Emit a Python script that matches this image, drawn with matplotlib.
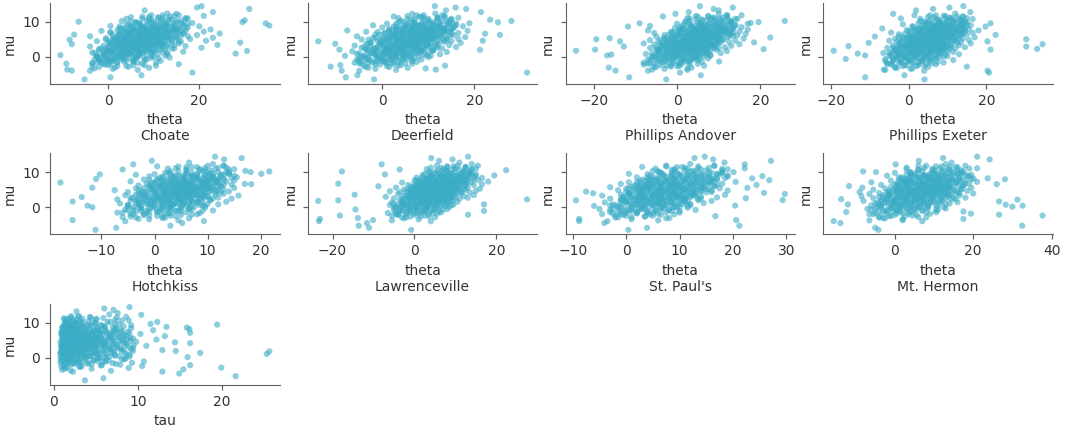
import matplotlib.pyplot as plt

# posterior draws (eight schools, centered model)
# chain 1 carries the tails, chains 2 and 3 fill in the dense core
schools = ["Choate", "Deerfield", "Phillips Andover", "Phillips Exeter",
           "Hotchkiss", "Lawrenceville", "St. Paul's", "Mt. Hermon"]

mu = [
    -6.42, -5.81, -5.23, -4.47,
    -3.91, -3.62, -3.28, -3.04, -2.77, -2.51, -2.33, -2.08,
    -1.93, -1.78, -1.62, -1.49, -1.31, -1.17, -1.02, -0.88, -0.71, -0.58, -0.43, -0.31, -0.18, -0.06,
    0.04, 0.13, 0.22, 0.31, 0.42, 0.51, 0.59, 0.68, 0.77, 0.86, 0.95, 1.04, 1.13, 1.22, 1.31, 1.42,
    1.51, 1.6, 1.69, 1.78, 1.87, 1.96,
    2.03, 2.1, 2.16, 2.23, 2.3, 2.37, 2.43, 2.5, 2.57, 2.63, 2.7, 2.77, 2.84, 2.9, 2.97, 3.04, 3.1,
    3.17, 3.24, 3.3, 3.37, 3.44, 3.5, 3.57, 3.63, 3.7, 3.77, 3.84, 3.9, 3.97,
    4.03, 4.09, 4.15, 4.21, 4.27, 4.33, 4.39, 4.45, 4.51, 4.57, 4.63, 4.69, 4.75, 4.81, 4.87, 4.93,
    4.99, 5.05, 5.11, 5.17, 5.23, 5.29, 5.35, 5.41, 5.47, 5.53, 5.59, 5.65, 5.71, 5.77, 5.83, 5.89, 5.95,
    6.03, 6.1, 6.16, 6.23, 6.3, 6.37, 6.43, 6.5, 6.57, 6.63, 6.7, 6.77, 6.84, 6.9, 6.97, 7.04, 7.1,
    7.17, 7.24, 7.3, 7.37, 7.44, 7.5, 7.57, 7.63, 7.7, 7.77, 7.84, 7.9, 7.97,
    8.04, 8.13, 8.22, 8.31, 8.42, 8.51, 8.59, 8.68, 8.77, 8.86, 8.95, 9.04, 9.13, 9.22, 9.31, 9.42,
    9.51, 9.6, 9.69, 9.78, 9.87, 9.96,
    10.08, 10.27, 10.45, 10.63, 10.82, 11.0, 11.18, 11.37, 11.55, 11.73, 11.91,
    12.3, 12.8, 13.3, 13.7, 14.1, 14.5,
]

tau = [
    3.7, 5.9, 21.6, 14.9,
    12.9, 2.0, 15.4, 1.3, 19.9, 3.0, 10.5, 16.2,
    1.2, 4.5, 2.3, 7.0, 1.6, 3.4, 10.7, 5.2, 0.9, 2.7, 6.1, 1.9, 8.5, 3.8,
    2.1, 5.5, 15.9, 1.0, 3.3, 7.8, 1.5, 4.2, 2.6, 9.0, 1.3, 6.3, 25.3, 3.0, 0.8, 17.4, 4.8, 2.0, 7.2,
    1.1, 25.6, 14.5,
    3.6, 1.4, 5.9, 12.9, 2.4, 8.2, 1.0, 4.4, 2.9, 6.7, 1.7, 3.9, 9.4, 2.2, 5.1, 1.2, 7.5, 3.2, 1.8,
    4.9, 2.6, 11.0, 0.9, 6.0, 3.5, 1.5, 8.7, 2.8, 4.6, 1.9,
    2.5, 5.6, 1.1, 16.2, 3.8, 7.1, 1.6, 14.4, 4.3, 2.1, 9.8, 3.0, 1.3, 6.4, 2.7, 5.0, 1.8, 8.1, 3.4,
    1.0, 12.2, 4.7, 2.3, 6.9, 1.4, 3.6, 9.1, 2.0, 5.3, 1.2, 4.0, 7.7, 2.9,
    3.1, 1.5, 6.6, 13.2, 2.2, 4.5, 1.0, 8.4, 3.7, 1.9, 5.8, 2.6, 10.3, 1.3, 4.1, 7.0, 2.4, 16.2, 1.7,
    3.3, 5.5, 0.9, 8.8, 2.8, 4.9, 1.6, 6.2, 3.0, 11.8, 2.0,
    3.9, 1.4, 16.1, 5.2, 2.3, 7.4, 1.1, 15.8, 3.5, 13.4, 2.7, 6.0, 1.8, 4.4, 9.2, 2.1, 19.4, 3.2,
    11.5, 1.5, 5.0, 2.6,
    1.9, 12.3, 4.1, 2.4, 7.3, 1.3, 3.4, 5.9, 2.0, 8.6, 3.0,
    10.4, 7.6, 2.7, 7.1, 6.0, 9.0,
]

theta_choate = [
    -5.2, 0.5, 7.3, 18.5,
    -8.0, -9.0, -3.0, 1.5, 4.5, 10.5, 0.0, 15.5,
    -9.2, -3.5, -1.5, 2.0, 0.5, 5.5, -2.0, 8.0, 1.0, 3.5, 11.0, -0.5, 13.5, 6.0,
    2.5, -2.5, 6.0, 0.0, 9.5, -10.5, 3.0, -1.0, 13.0, 4.5, 28.0, 1.5, 7.0, -3.5, 10.0, 5.0, 16.5,
    0.5, 30.5, 3.5, 8.5, -0.5,
    6.5, 1.0, 11.5, 4.0, -2.0, 9.0, 14.5, 2.5, 7.5, 20.5, 0.0, 5.5, 12.0, 3.0, -4.0, 8.0, 17.0,
    5.0, 10.5, 1.5, 6.5, 24.0, 13.0, 4.0, -8.0, 9.5, 2.0, 15.5, 7.0, 11.0,
    5.5, 29.0, 0.5, 12.5, 8.0, 3.0, 16.0, 6.5, -2.5, 10.0, 21.5, 4.5, 14.0, 7.5, 1.5, -8.5, 11.5,
    6.0, 18.0, 9.0, 3.5, 13.5, -0.5, 8.5, 23.0, 5.0, 15.0, 10.5, 2.0, 7.0, 12.0, -4.0, 17.5,
    9.5, 4.5, 13.0, 19.5, 7.0, -7.5, 11.0, 2.5, 15.5, 8.0, 24.5, 5.5, 12.5, 0.5, 16.5, 9.0, 3.5,
    14.0, 21.0, 6.5, 11.5, -1.5, 17.0, 8.5, 13.0, 4.0, 10.0, 22.5, 15.0, 6.0,
    11.0, 2.5, 14.5, 7.5, 17.5, 9.5, 5.0, 12.5, 20.0, 0.5, 35.4, 8.5, 7.0, 13.0, 4.0, 16.5, 10.5,
    34.6, 18.5, 6.5, 12.0, 29.5,
    -6.5, 3.0, 30.0, 14.0, 7.5, 17.5, 11.0, 5.0, 13.5, 21.0, 9.5,
    15.0, 23.0, 8.0, 31.0, 19.5, 20.5,
]

theta_deerfield = [
    -1.8, -7.9, -5.4, 31.4,
    -8.8, 11.6, 9.4, -3.0, -11.2, 13.6, -9.1, 2.5,
    -4.5, 1.0, -6.0, 3.5, -1.5, 6.5, 0.0, -3.0, 8.5, 2.0, -5.0, 4.5, -0.5, 10.0,
    1.5, -4.0, 6.0, -8.1, 3.0, 9.5, -1.5, 4.5, 12.5, -5.5, 2.0, 7.5, -2.5, 5.5, 0.5, 14.0, 3.5,
    -6.5, 8.5, 1.0, 11.0, -3.0,
    21.2, -9.3, 4.0, 9.0, -2.0, 6.5, 13.0, 1.0, 7.5, -4.5, 10.5, 3.5, 16.0, 5.0, -1.0, 8.0, 12.0,
    2.5, -6.0, 6.0, 14.5, 4.5, 9.5, 0.0, 7.0, -3.5, -10.2, 11.5, 5.5, 17.0,
    3.0, 8.5, -2.5, 12.5, 6.0, 1.5, 10.0, -13.9, 15.0, 4.5, 21.8, 7.5, -0.5, 13.5, 5.5, 9.5, -4.5,
    3.5, 16.5, 8.0, 0.5, 11.0, 6.5, -2.0, 14.0, 4.0, 9.0, 18.0, 2.0, 7.0, 12.0, -5.5, 10.5,
    6.5, 11.5, 2.5, 15.5, 25.5, 8.5, -1.5, 13.0, 4.5, 22.3, 10.0, 0.5, 16.5, 7.0, 12.5, 3.0, 9.5,
    -3.5, 14.5, 5.5, 11.0, 18.5, 1.5, -7.6, 8.0, 13.5, 6.0, 10.5, 15.0, 3.5,
    9.0, 13.0, 4.5, 11.5, 0.0, 15.5, 7.5, 12.0, 17.5, 5.0, 9.5, -2.0, 14.0, 7.0, 11.0, 3.0, 16.0,
    18.9, 8.5, 12.5, 25.1, 6.0,
    10.0, 28.0, 14.5, 23.4, 5.5, 12.0, 16.5, 8.0, 2.5, 13.5, 9.0,
    6.5, 21.4, 13.8, 18.2, 15.9, 11.4,
]

theta_andover = [
    -2.6, -11.5, 5.7, 0.7,
    -14.8, -6.0, 2.5, -16.4, -1.5, 6.5, -4.0, 1.0,
    -5.5, 0.5, -8.0, 3.0, 10.1, -2.5, 5.0, -6.5, 1.5, -1.0, 7.5, -3.5, 4.0, -0.5,
    -2.0, 4.5, -6.0, 1.0, -16.8, 8.0, -3.5, -15.8, 2.5, -7.5, 5.5, -1.0, 10.5, 0.0, -4.5, 3.5, 7.0,
    -2.5, 12.0, -24.3, 1.5, -5.0,
    4.0, -19.7, -1.5, 20.8, 6.5, -4.0, 2.0, 9.0, -6.5, 0.5, 5.0, 11.5, -2.5, 3.0, -12.8, 7.5, -0.5,
    13.0, 4.5, -3.5, 1.5, 8.5, -5.5, 6.0, 15.0, 0.0, 3.5, -8.0, 10.0, 2.0,
    5.0, -2.0, 18.5, 9.5, 1.0, 12.5, -4.5, -13.7, 6.5, 3.0, 14.0, -0.5, 8.0, -6.5, 4.5, 11.0, 1.5,
    -19.4, 7.0, -3.0, 16.0, 5.5, -16.2, 10.0, 2.5, 22.4, 8.5, -1.5, 12.0, 4.0, -5.0, 6.0, 13.5,
    9.0, 2.0, 14.5, 6.0, -3.0, 11.0, 4.0, 8.0, 16.5, 0.5, 12.5, 7.0, -5.5, 10.0, 3.5, 13.5, 5.5,
    -1.0, 9.5, 15.0, 2.5, 11.5, 7.5, -7.0, 13.0, 4.5, 10.5, 17.0, 6.5, 1.0,
    10.0, 5.0, 13.5, -0.5, 8.5, 15.5, 3.5, -11.8, 11.5, -6.5, 7.0, 14.0, 1.5, 9.5, 12.5, 5.5, 17.0,
    -9.0, 17.7, 8.0, 11.0, 19.6,
    13.0, 25.9, 6.0, 10.5, 14.5, 3.0, 9.0, 12.0, -3.4, 7.5, 15.5,
    -0.4, 2.8, 10.0, 8.8, 13.4, 5.5,
]

theta_exeter = [
    4.1, -11.2, -1.1, 20.7,
    20.3, -6.4, 1.0, -3.5, 15.0, 4.0, -1.0, 7.0,
    -4.5, 2.5, 9.0, -2.0, 5.5, -6.0, 0.5, 11.5, 3.5, -16.2, 6.5, -3.0, 1.5, 8.0,
    -1.0, 4.0, 10.0, -5.0, -11.2, 2.0, 7.0, -2.5, 13.0, 0.5, -13.1, 5.0, -6.5, 8.5, 3.0, 11.5, -0.5,
    6.0, -4.0, -19.3, 1.5, 9.0,
    3.5, 21.1, -3.0, 7.5, 33.1, 0.0, 12.0, 5.0, -5.5, 9.5, 2.0, 14.5, 6.0, -1.5, 30.3, 10.5, -15.5,
    4.0, 8.0, -4.0, 13.0, 1.0, 6.5, 11.0, 34.5, -2.5, 3.0, 16.0, 7.5, 0.5,
    -10.3, 5.5, 10.0, 1.5, 13.5, 7.0, -2.0, 20.3, 4.0, 11.5, -5.0, 8.5, 2.5, 15.5, 6.0, -0.5, 12.0,
    30.3, 3.5, 9.0, -3.5, 14.0, 7.5, 1.0, 10.5, 5.0, 17.0, -1.5, 8.0, 12.5, -8.7, 4.5, 11.0,
    6.5, 13.0, 0.5, 9.5, 22.4, 4.0, 15.0, -2.5, 11.0, 7.5, 2.0, 13.5, 5.5, 16.5, -4.5, 9.0, 12.0,
    3.0, 7.0, 14.5, 0.0, 10.0, 5.0, 18.0, 8.5, 12.5, 1.5, 6.0, 15.5, 10.5,
    8.0, -6.8, 12.0, 3.5, 14.0, 6.5, 10.0, 19.8, 1.0, 13.0, 7.5, 16.0, 4.5, 11.0, -1.5, 9.0, 14.5,
    21.1, 5.5, 12.0, 8.0, 15.0,
    10.0, 3.0, 13.5, 7.0, 16.5, -2.0, 11.0, 5.0, 14.0, 9.0, 1.5,
    -4.0, 15.9, 1.9, 6.3, 10.5, 14.1,
]

theta_hotchkiss = [
    -11.1, -7.2, 3.0, 5.2,
    9.3, -15.4, -3.0, 1.5, -6.0, 4.0, -1.0, 7.0,
    -4.0, 2.0, 8.5, -7.0, 0.5, 5.0, -2.5, 11.0, 3.0, -5.5, 6.5, -1.0, 1.5, 9.5,
    -11.7, 2.5, -3.0, 6.0, 0.0, -12.6, 9.0, -5.0, 3.5, 12.0, -1.5, 5.5, -6.5, 1.0, 8.0, -2.5, 4.0,
    13.5, -15.4, 7.0, -0.5, 2.5,
    -3.5, 5.0, 10.5, 1.5, -7.0, 7.0, 3.0, 14.5, -1.0, 9.0, 4.5, -4.5, 12.0, 0.5, -13.7, 6.5, 2.0,
    10.0, -2.0, 8.0, 15.8, 3.5, -5.5, 5.5, 11.5, 0.0, 7.5, -3.0, 13.0, 4.0,
    2.0, 9.5, -1.5, 6.0, 12.5, 3.5, -5.0, 8.0, 0.5, 14.0, 5.0, -2.5, 10.5, 7.0, 2.5, -7.5, 11.5,
    4.5, 8.5, -0.5, 13.0, 6.0, 1.5, 10.0, -3.5, 7.5, 15.0, -11.7, 3.0, 9.0, 12.0, 5.5, -1.0,
    8.0, 1.0, 12.5, 4.5, -3.0, 10.0, 6.5, 14.5, 2.5, 18.2, 17.0, -1.5, 9.0, 5.0, 12.0, 0.0, -17.7,
    7.5, 11.0, 3.5, 13.5, -4.5, 6.0, 9.5, 2.0, 15.0, 8.5, 4.0, 11.5, -2.0,
    10.5, -11.0, 5.5, 13.0, 1.5, 8.0, 15.5, 3.5, 11.0, -1.0, 7.0, 12.5, 4.5, 9.5, -3.5, -10.3, 14.0,
    20.1, 6.0, 10.0, 2.0, 12.0,
    18.1, 21.6, 17.1, 8.5, -6.0, 11.5, 4.0, 13.5, 7.0, 0.5, 10.0,
    -4.0, 6.5, -0.5, 13.1, 16.4, 11.4,
]

theta_lawrenceville = [
    -0.8, -11.1, -13.6, -11.6,
    -23.3, -10.1, -23.1, -13.8, -2.0, 3.5, -18.2, 13.1,
    -4.0, 1.0, -6.5, 4.5, -1.5, 6.0, 17.0, -3.0, 2.5, -14.4, 8.0, 0.0, -5.0, 3.0,
    -2.0, 5.0, -4.5, 1.5, 7.5, -1.0, 3.5, -6.0, 9.5, 17.0, 0.5, 5.5, -3.0, 2.0, 8.0, -5.5, 4.0,
    10.5, -0.5, 6.5, -23.5, 2.5,
    -18.6, 3.0, 8.5, -3.5, 27.5, 5.5, 0.0, 11.0, -5.0, 7.0, 2.5, 13.0, -1.5, 4.5, 9.0, -7.0, 6.0,
    1.0, 12.0, 3.5, -2.5, 8.0, 14.5, 0.5, -14.6, 5.0, 10.0, -4.0, 7.5, 2.0,
    6.0, -1.0, 10.5, 3.0, 13.5, -3.5, 8.0, 1.5, 5.0, 11.5, -6.0, 7.0, 15.0, 2.5, 9.5, -0.5, 4.5,
    12.5, 6.5, -2.5, 10.0, 3.5, 16.0, 8.5, 0.5, 5.5, 13.0, -4.5, 7.5, 11.0, 2.0, 9.0, 4.0,
    -8.8, 8.0, 12.0, 3.0, 6.5, 14.5, -1.5, 10.0, 5.0, 16.5, 1.0, -18.6, 8.5, 12.5, 4.0, 10.5, -3.0,
    7.0, 14.0, 2.5, 18.0, 9.0, 5.5, 12.0, 0.0, 8.0, 15.5, 4.5, 11.0, 6.5,
    9.5, 3.0, 13.0, 6.5, 16.5, 0.5, 11.0, 7.5, 14.5, 4.0, 10.0, 12.5, 19.5, 2.0, 8.5, -7.2, 15.0,
    5.5, 11.5, 9.0, 13.5, 6.0,
    12.0, -17.7, 7.0, 22.4, -3.6, 14.0, 10.0, 4.0, 12.5, 8.0, 15.5,
    -8.0, 11.0, 6.0, 9.3, 4.1, 13.1,
]

theta_stpauls = [
    0.4, 3.9, 21.2, -4.1,
    -8.8, 20.6, -8.8, 8.1, 1.0, 16.7, -2.0, 4.5,
    -1.0, 6.0, 2.0, 10.0, -3.0, 4.0, 8.5, 0.5, 13.0, 3.0, -5.0, 7.0, 1.5, 11.5,
    2.5, 9.0, -1.5, 5.5, -6.0, 20.4, 12.0, 3.5, 7.5, -2.5, 10.5, 1.0, 6.5, 14.5, 4.0, -4.0, 8.5,
    0.0, 11.5, 5.0, 16.0, 2.0,
    -9.4, 29.3, 6.0, 10.0, 1.5, 13.5, 4.5, -3.0, 8.0, 22.4, 11.0, 3.0, 17.0, 6.5, -0.5, 9.5, 14.0,
    2.0, 7.0, 12.0, -4.5, 5.0, 10.5, 18.5, 3.5, 8.5, 0.5, 29.7, 13.0, 6.0,
    -6.2, 9.0, 25.8, 4.5, 12.5, 1.0, 16.0, 7.0, -7.5, 10.5, 3.0, 14.0, 8.0, 19.0, 5.5, -1.5, 11.5,
    6.5, 15.0, 2.5, 9.5, 13.0, 0.0, 7.5, 17.5, 4.0, 22.7, 11.0, 6.0, -3.0, 14.5, 8.5, 3.5,
    10.0, 5.0, 16.5, 1.5, 12.5, 8.0, 24.4, 3.5, 14.0, 9.5, -1.0, 18.0, 6.5, 11.0, 4.5, 15.5, 8.5,
    0.5, 13.0, 20.5, 7.0, 10.5, 2.5, 16.0, 12.0, 5.5, 26.8, 9.0, 14.5, 3.0,
    11.0, 6.0, 17.0, 23.6, 9.0, 13.5, 2.0, 15.5, 7.5, 19.0, 25.5, 11.5, 4.5, 14.0, 8.5, 17.5, 10.0,
    0.5, 13.0, 6.5, 16.0, 9.5,
    20.1, 12.0, 5.0, 15.0, 9.0, 18.0, 22.2, 11.0, 3.0, 13.5, 7.5,
    22.2, 18.4, 27.1, 16.3, 12.8, 14.7,
]

theta_mthermon = [
    -4.2, -5.0, 32.5, -13.9,
    -15.6, 2.0, 17.5, -3.0, 6.0, -1.0, 37.7, 26.6,
    3.5, 19.4, -5.0, 8.0, -12.4, 17.5, 1.0, -2.5, 10.5, 5.0, -7.0, 13.0, 0.0, 4.0,
    -3.5, 6.5, 30.0, 1.5, 11.0, 32.6, -6.0, 4.0, 28.3, -12.0, 8.5, -1.0, 14.0, 2.5, -4.5, 7.0, 16.0,
    0.0, 26.6, 10.0, -8.0, 5.0,
    12.0, -2.0, 7.5, 31.3, 3.0, -13.7, 15.5, 0.5, 9.0, -5.5, 5.5, 18.0, 2.0, 11.5, -3.0, 7.0, 13.5,
    -8.5, 4.5, 10.0, 1.0, 16.5, 6.0, -1.5, 12.5, 3.5, 8.5, -6.5, 14.5, 20.0,
    5.0, -4.0, 11.0, 1.5, 16.0, 8.0, -9.0, 13.0, 3.5, 9.5, -1.5, 18.5, 6.5, 12.0, 0.5, 15.0, 7.5,
    -5.5, 10.5, 4.0, 17.0, 2.0, 13.5, 8.5, -2.5, 11.5, 19.5, -8.3, 6.0, 14.0, 1.0, 9.0, 16.5,
    7.0, -11.7, 12.5, 3.0, 17.5, 9.5, -3.5, 14.0, 5.5, 26.0, 11.0, 0.5, 19.0, 8.0, 15.5, 2.5, 12.0,
    -6.0, 10.0, 21.0, 6.5, 16.0, 4.0, 13.5, -1.0, 9.0, 18.0, 11.5, 3.5, 14.5,
    28.1, 8.5, 20.1, 23.7, 13.0, 2.0, 16.5, 10.0, 5.5, 18.5, 12.0, -2.0, 14.5, 7.5, 19.5, 11.0, 4.0,
    16.0, 9.0, 13.5, 0.0, 17.0,
    -4.8, -8.1, 12.5, 6.0, 16.0, 9.5, 21.0, 3.0, 14.0, 10.5, 18.0,
    0.2, 14.5, 6.1, 24.2, 12.3, 21.0,
]

# chain 2
mu_2 = [
    -2.9, -2.6, -2.4, -2.1, -1.9, -1.7, -1.5, -1.35, -1.2, -1.05,
    -0.95, -0.85, -0.7, -0.6, -0.45, -0.35, -0.2, -0.1, 0.05, 0.15, 0.3, 0.4, 0.5, 0.6, 0.7, 0.8,
    0.9, 0.97,
    1.05, 1.12, 1.2, 1.28, 1.36, 1.45, 1.53, 1.61, 1.7, 1.78, 1.86, 1.95, 2.03, 2.12, 2.2, 2.28,
    2.36, 2.45, 2.53, 2.61, 2.7, 2.78, 2.86, 2.95,
    3.03, 3.1, 3.17, 3.24, 3.31, 3.38, 3.45, 3.52, 3.59, 3.66, 3.73, 3.8, 3.87, 3.94, 4.02, 4.09,
    4.16, 4.23, 4.3, 4.37, 4.44, 4.51, 4.58, 4.65, 4.72, 4.79, 4.86, 4.93,
    5.03, 5.1, 5.17, 5.24, 5.31, 5.38, 5.45, 5.52, 5.59, 5.66, 5.73, 5.8, 5.87, 5.94, 6.02, 6.09,
    6.16, 6.23, 6.3, 6.37, 6.44, 6.51, 6.58, 6.65, 6.72, 6.79, 6.86, 6.93,
    7.05, 7.12, 7.2, 7.28, 7.36, 7.45, 7.53, 7.61, 7.7, 7.78, 7.86, 7.95, 8.03, 8.12, 8.2, 8.28,
    8.36, 8.45, 8.53, 8.61, 8.7, 8.78, 8.86, 8.95,
    9.05, 9.2, 9.35, 9.5, 9.65, 9.8, 9.95, 10.1, 10.25, 10.4, 10.55, 10.7, 10.85, 10.95,
    11.2, 11.5, 11.9, 12.4,
]

tau_2 = [
    1.4, 3.2, 0.9, 5.6, 2.1, 7.4, 1.7, 4.1, 2.8, 6.2,
    2.4, 1.1, 4.8, 3.0, 8.1, 1.6, 5.4, 2.0, 0.8, 3.7, 6.6, 1.3, 4.3, 2.6, 7.2, 1.9, 3.4, 5.1,
    1.2, 3.8, 2.2, 6.0, 1.5, 4.6, 8.4, 2.9, 1.0, 5.3, 3.3, 1.8, 7.0, 2.5, 4.0, 1.3, 6.4, 3.1, 2.0,
    5.0, 1.6, 8.0, 3.6, 2.3,
    4.4, 1.1, 2.7, 6.8, 1.7, 3.5, 5.7, 0.9, 2.4, 4.9, 7.6, 1.4, 3.0, 2.1, 6.1, 1.0, 4.2, 8.3, 2.6,
    1.5, 3.9, 5.5, 1.2, 2.9, 7.1, 3.3, 1.8, 4.7,
    2.2, 5.9, 1.3, 3.6, 8.6, 1.9, 4.5, 2.7, 6.5, 1.0, 3.1, 5.2, 1.6, 7.8, 2.4, 4.0, 1.2, 3.4, 6.9,
    2.0, 1.5, 5.0, 3.8, 8.2, 1.1, 2.8, 4.6, 1.7,
    3.3, 1.4, 6.3, 2.2, 4.8, 1.0, 7.5, 2.9, 1.8, 5.4, 3.7, 1.3, 8.0, 2.5, 4.3, 1.6, 6.0, 3.0, 1.1,
    5.1, 2.0, 7.0, 3.5, 1.5,
    2.1, 5.7, 1.2, 3.9, 7.3, 1.8, 4.6, 2.6, 6.4, 1.4, 3.2, 8.1, 2.3, 5.0,
    1.7, 4.4, 2.9, 6.6,
]

theta_choate_2 = [
    -3.5, 2.0, 5.5, -1.0, 0.5, 6.5, -2.5, 3.5, 1.0, -0.5,
    0.0, 5.5, -2.0, 3.0, 8.0, 1.5, -1.0, 4.5, 6.5, 2.0, -2.5, 3.5, 7.0, 0.5, 5.0, 2.5, -0.5, 4.0,
    3.0, 7.5, -1.0, 5.0, 9.5, 1.5, 4.5, 6.5, 0.0, 8.0, 3.5, 10.0, 2.0, 6.0, -0.5, 4.0, 7.0, 2.5,
    9.0, 5.5, 1.0, 3.5, 8.5, 6.0,
    5.0, 9.0, 1.5, 7.0, 11.5, 3.5, 6.0, 10.0, 2.0, 8.0, 4.5, 12.0, 6.5, 0.5, 9.5, 5.5, 3.0, 7.5,
    11.0, 4.0, 8.5, 2.5, 6.0, 10.5, 5.0, 1.0, 7.0, 9.0,
    7.0, 11.5, 3.0, 9.0, 13.0, 5.5, 8.0, 2.0, 10.5, 6.5, 12.5, 4.0, 9.5, 7.5, 13.5, 3.5, 10.0, 6.0,
    8.5, 11.0, 5.0, 2.5, 9.0, 12.0, 7.0, 4.5, 10.5, 8.0,
    9.0, 13.5, 4.5, 11.0, 7.0, 15.0, 10.0, 5.5, 12.5, 8.5, 14.0, 6.5, 10.5, 3.5, 12.0, 9.5, 15.5,
    7.5, 11.5, 5.0, 13.0, 8.0, 10.0, 14.5,
    11.0, 7.0, 14.5, 9.5, 16.0, 12.5, 6.0, 10.0, 15.0, 8.5, 13.0, 11.5, 17.0, 9.0,
    12.0, 9.0, 15.5, 13.0,
]

theta_deerfield_2 = [
    1.5, -4.0, 3.5, -1.5, 5.0, -3.0, 0.5, 2.5, -5.0, -0.5,
    -2.5, 4.0, 0.5, 6.5, -3.5, 2.5, 5.0, -1.0, 1.5, 3.5, -4.0, 6.0, 0.0, 2.0, 4.5, -1.5, 3.0, 1.0,
    5.5, 0.0, 3.0, 8.0, -2.0, 4.5, 1.5, 6.5, 2.5, -1.0, 7.5, 3.5, 0.5, 5.0, 8.5, 2.0, 4.0, -1.5,
    6.0, 1.0, 3.0, 7.0, 4.5, 2.5,
    2.0, 7.5, 4.5, 0.0, 9.5, 5.5, 3.0, 8.0, 1.0, 6.5, 10.0, 4.0, 2.5, 7.0, -0.5, 5.0, 8.5, 3.5,
    6.0, 1.5, 9.0, 4.5, 0.5, 7.5, 5.5, 3.0, 10.0, 6.0,
    8.5, 4.0, 11.0, 6.0, 1.5, 9.5, 5.0, 7.5, 3.0, 10.5, 6.5, 1.0, 8.0, 4.5, 11.5, 7.0, 2.5, 9.0,
    5.5, 3.5, 10.0, 6.0, 8.5, 2.0, 7.0, 11.0, 4.5, 9.5,
    6.0, 11.5, 3.5, 9.0, 13.0, 7.5, 4.5, 10.0, 2.5, 8.5, 12.0, 6.5, 11.0, 5.0, 9.5, 13.5, 7.0,
    3.0, 10.5, 8.0, 5.5, 12.5, 9.0, 6.5,
    8.0, 12.5, 5.5, 10.5, 14.5, 7.0, 11.0, 4.5, 13.0, 9.0, 15.0, 6.5, 10.0, 12.0,
    9.0, 13.5, 7.5, 11.5,
]

theta_andover_2 = [
    -5.0, 0.5, -2.5, 3.0, -7.0, -1.0, 1.5, -4.0, 2.5, -3.0,
    1.0, -4.5, 3.5, -2.0, 5.0, -6.0, 0.0, 2.5, -3.0, 4.5, -1.0, 1.5, -5.0, 3.0, -0.5, 5.5, -2.5,
    0.5,
    -1.5, 3.5, 6.5, -4.0, 1.0, 4.5, -2.5, 2.0, 6.0, -0.5, 3.0, -4.5, 5.0, 0.5, 2.5, -3.0, 7.0, 1.5,
    -1.0, 4.0, 0.0, 5.5, -2.0, 3.0,
    4.0, -1.0, 7.0, 2.0, -3.0, 5.5, 0.5, 8.5, 3.0, -2.0, 6.0, 1.0, 4.5, 7.5, -0.5, 2.5, 5.0, 0.0,
    8.0, 3.5, -1.5, 6.5, 2.0, 4.0, -2.5, 7.0, 1.5, 5.5,
    2.0, 7.5, 0.0, 5.0, 9.5, 3.5, -1.0, 6.5, 4.0, 10.0, 1.5, 8.0, 5.5, -0.5, 3.0, 9.0, 6.0, 2.5,
    7.0, 4.5, 0.5, 8.5, 5.0, 10.5, 3.5, 1.0, 6.5, 4.0,
    7.5, 3.0, 10.5, 5.0, 0.5, 8.5, 6.0, 11.5, 2.0, 7.0, 9.5, 4.0, 12.0, 6.5, 1.5, 8.0, 5.5, 10.0,
    3.5, 7.0, 11.0, 4.5, 9.0, 6.0,
    6.0, 10.5, 3.0, 8.5, 13.0, 5.0, 9.5, 2.0, 11.5, 7.0, 12.5, 4.5, 8.0, 10.0,
    8.5, 5.0, 12.0, 10.0,
]

theta_exeter_2 = [
    -3.5, 2.0, -0.5, 4.5, -5.5, 1.0, -2.0, 3.0, -4.0, 0.0,
    3.5, -2.0, 5.5, 0.0, -4.0, 2.5, 6.0, -1.0, 1.5, 4.0, -3.0, 0.5, 5.0, 2.0, -1.5, 3.0, -4.5, 1.0,
    0.0, 5.0, 2.5, 7.5, -2.0, 3.5, 6.0, 1.0, -3.0, 4.5, 8.0, 2.0, -1.0, 5.5, 3.0, 7.0, 0.5, 4.0,
    -2.5, 6.5, 1.5, 3.5, 5.0, -0.5,
    6.0, 1.5, 8.5, 3.5, -1.0, 5.0, 9.5, 2.5, 7.0, 0.0, 4.5, 8.0, 3.0, 6.5, -0.5, 5.5, 2.0, 9.0,
    4.0, 7.5, 1.0, 5.0, 3.5, 8.5, 0.5, 6.0, 2.5, 4.5,
    3.5, 8.5, 1.0, 6.0, 10.5, 4.5, 7.5, 0.5, 9.0, 5.5, 2.5, 11.0, 6.5, 4.0, 8.0, 1.5, 10.0, 5.0,
    7.0, 3.0, 9.5, 6.0, 2.0, 8.5, 4.5, 11.0, 7.0, 5.5,
    9.5, 5.0, 12.0, 7.0, 3.0, 10.5, 8.0, 13.0, 4.5, 9.0, 6.0, 11.5, 2.5, 8.5, 12.5, 6.5, 10.0,
    4.0, 7.5, 11.0, 5.5, 9.0, 13.5, 7.0,
    11.0, 6.5, 13.5, 9.0, 4.5, 12.0, 8.0, 14.5, 10.0, 5.5, 11.5, 7.5, 13.0, 9.5,
    10.5, 14.0, 7.0, 12.0,
]

theta_hotchkiss_2 = [
    2.0, -4.5, 0.5, 5.0, -2.0, 3.0, -6.0, 1.0, -1.0, 4.0,
    -1.5, 4.5, 1.0, -4.0, 6.5, 2.5, -2.5, 0.0, 5.0, 3.0, -5.0, 1.5, 7.0, -0.5, 3.5, -3.0, 2.0, 5.5,
    4.0, -1.0, 6.5, 1.5, -3.5, 3.0, 8.0, 0.0, 5.0, 2.5, -2.0, 7.0, 3.5, 1.0, 5.5, -0.5, 4.5, 8.5,
    2.0, -3.0, 6.0, 3.0, 0.5, 4.5,
    1.0, 6.0, -1.5, 4.0, 9.0, 2.5, 7.0, 0.0, 5.0, 8.0, 3.0, -2.0, 6.5, 4.5, 1.5, 9.5, 5.5, 2.0,
    7.5, -0.5, 3.5, 6.0, 0.5, 8.5, 4.0, 2.5, 5.0, 7.0,
    7.0, 2.5, 9.5, 5.0, 0.0, 8.0, 4.0, 10.5, 6.0, 1.5, 7.5, 3.5, 11.0, 5.5, -0.5, 9.0, 4.5, 6.5,
    2.0, 8.5, 5.0, 10.0, 3.0, 7.0, 1.0, 6.0, 9.5, 4.0,
    4.5, 9.0, 1.5, 7.0, 11.5, 5.5, 3.0, 10.0, 6.5, 0.5, 8.5, 12.0, 4.0, 7.5, 2.5, 10.5, 6.0, 9.0,
    1.0, 8.0, 5.0, 11.0, 3.5, 7.0,
    10.0, 5.5, 12.5, 8.0, 3.0, 11.0, 7.0, 13.5, 9.0, 4.5, 10.5, 6.0, 14.0, 8.5,
    9.5, 6.0, 13.0, 11.0,
]

theta_lawrenceville_2 = [
    -3.0, 1.5, -5.5, 0.0, 3.5, -2.0, -4.5, 2.5, -1.0, 0.5,
    2.0, -3.5, 4.5, -1.0, 0.5, 5.5, -4.5, 1.5, 3.0, -2.0, 6.0, 0.0, -3.0, 2.5, 4.0, -1.5, 1.0, -5.0,
    0.5, 5.0, -2.5, 3.0, 7.0, 1.5, -1.0, 4.5, 2.0, 6.0, -3.0, 3.5, 0.0, 5.5, 2.5, 7.5, -1.5, 4.0,
    1.0, 6.5, -0.5, 3.0, 5.0, 1.5,
    5.0, 0.5, 7.5, 3.0, -1.5, 6.0, 2.0, 9.0, 4.0, 1.0, 8.0, 3.5, -0.5, 6.5, 4.5, 2.5, 8.5, 0.0,
    5.5, 3.0, 7.0, 1.5, 4.0, 9.0, 2.0, 6.0, -1.0, 5.0,
    3.0, 8.0, 0.5, 5.5, 10.0, 4.0, 7.0, 1.5, 9.0, 6.0, 2.5, 10.5, 5.0, 0.0, 7.5, 3.5, 8.5, 6.5,
    1.0, 4.5, 9.5, 5.5, 2.0, 7.0, 10.0, 4.0, 6.0, 3.0,
    8.5, 4.0, 11.0, 6.5, 2.0, 9.5, 5.5, 12.0, 7.5, 3.0, 10.0, 6.0, 1.5, 8.0, 11.5, 5.0, 9.0, 3.5,
    7.0, 12.5, 4.5, 10.5, 6.5, 8.0,
    6.5, 11.0, 4.0, 9.0, 13.5, 7.5, 10.0, 3.5, 12.0, 8.0, 5.5, 14.0, 9.5, 7.0,
    12.5, 8.0, 10.5, 14.0,
]

theta_stpauls_2 = [
    -2.0, 3.5, 0.0, 6.5, -4.5, 2.0, 5.0, -1.0, 4.0, 1.0,
    5.5, 0.0, 8.0, 2.5, -2.5, 6.5, 3.5, -1.0, 9.0, 4.5, 1.0, 7.0, -3.0, 5.0, 2.0, 8.5, 3.0, 6.0,
    2.0, 7.5, 4.5, 10.0, -1.0, 6.0, 3.0, 9.0, 0.5, 5.5, 11.0, 4.0, 7.0, 1.5, 8.5, 5.0, -0.5, 6.5,
    10.5, 3.5, 8.0, 2.5, 9.5, 5.5,
    8.5, 3.5, 11.0, 6.0, 1.0, 9.5, 5.0, 12.5, 7.0, 2.5, 10.0, 4.5, 8.0, 13.0, 6.5, 0.5, 9.0, 3.0,
    11.5, 7.5, 5.5, 12.0, 2.0, 8.5, 4.0, 10.5, 6.0, 9.5,
    6.0, 11.0, 3.0, 9.0, 14.0, 7.5, 4.5, 12.5, 8.5, 2.5, 10.5, 6.5, 13.5, 5.0, 9.5, 11.5, 3.5, 8.0,
    14.5, 7.0, 10.0, 4.0, 12.0, 8.5, 5.5, 13.0, 9.0, 6.5,
    12.0, 7.5, 15.0, 9.5, 4.5, 13.5, 10.5, 6.0, 16.0, 11.0, 8.0, 14.0, 5.0, 12.5, 9.0, 16.5, 7.0,
    11.5, 13.0, 4.0, 10.0, 15.5, 8.5, 12.0,
    10.0, 14.5, 7.0, 12.5, 17.0, 9.0, 15.5, 6.0, 13.0, 11.0, 18.0, 8.5, 14.0, 11.5,
    13.5, 9.5, 16.5, 12.0,
]

theta_mthermon_2 = [
    -4.0, 2.5, -1.5, 5.5, -6.5, 0.5, 3.5, -3.0, 1.5, -0.5,
    4.0, -2.0, 7.0, 0.5, -5.0, 3.0, 8.0, -1.0, 5.5, 1.5, -3.5, 6.0, 2.5, -0.5, 4.5, -4.0, 7.5, 1.0,
    0.5, 6.0, -2.5, 4.0, 9.0, 1.5, 7.5, -1.0, 3.0, 10.0, 5.0, -3.5, 2.0, 8.0, 4.5, 0.0, 6.5, 3.5,
    9.5, -2.0, 5.5, 1.0, 7.0, 3.0,
    7.0, 2.0, 10.0, 4.5, -1.5, 8.5, 5.5, 0.5, 11.5, 6.0, 3.0, 9.0, -1.0, 7.5, 4.0, 12.0, 1.5, 6.5,
    10.5, 3.5, 8.0, 5.0, 0.0, 9.5, 2.5, 11.0, 6.0, 4.5,
    4.5, 10.0, 1.5, 7.5, 13.0, 5.5, 0.5, 9.0, 6.5, 12.0, 3.0, 8.5, 11.0, 2.0, 7.0, 14.0, 5.0, 9.5,
    1.0, 6.0, 12.5, 3.5, 8.0, 10.5, 4.0, 13.5, 7.0, 2.5,
    10.5, 5.0, 13.5, 8.0, 2.5, 11.5, 7.0, 15.0, 4.0, 9.5, 12.5, 6.0, 14.5, 3.0, 10.0, 8.5, 1.5,
    12.0, 6.5, 15.5, 9.0, 4.5, 11.0, 7.5,
    8.0, 13.0, 5.0, 11.0, 16.0, 9.5, 4.0, 14.5, 12.0, 7.0, 17.0, 10.0, 6.0, 13.5,
    11.5, 15.5, 8.0, 13.0,
]

# chain 3
mu_3 = [
    -3.95, -3.7, -3.4, -3.1, -2.85, -2.6, -2.35, -2.15,
    -1.95, -1.82, -1.68, -1.55, -1.4, -1.27, -1.13, -1.0, -0.87, -0.74, -0.62, -0.5, -0.38, -0.26,
    -0.14, -0.03,
    0.08, 0.17, 0.26, 0.36, 0.45, 0.55, 0.64, 0.73, 0.82, 0.92, 1.01, 1.1, 1.19, 1.28, 1.37, 1.46,
    1.55, 1.64, 1.73, 1.82, 1.91, 1.99,
    2.06, 2.14, 2.21, 2.29, 2.36, 2.44, 2.52, 2.59, 2.67, 2.74, 2.82, 2.9, 2.97, 3.05, 3.12, 3.2,
    3.28, 3.35, 3.43, 3.5, 3.58, 3.66, 3.73, 3.81, 3.88, 3.96,
    4.06, 4.14, 4.21, 4.29, 4.36, 4.44, 4.52, 4.59, 4.67, 4.74, 4.82, 4.9, 4.97, 5.05, 5.12, 5.2,
    5.28, 5.35, 5.43, 5.5, 5.58, 5.66, 5.73, 5.81, 5.88, 5.96,
    6.04, 6.12, 6.2, 6.29, 6.37, 6.45, 6.54, 6.62, 6.7, 6.79, 6.87, 6.95, 7.04, 7.12, 7.2, 7.29,
    7.37, 7.45, 7.54, 7.62, 7.7, 7.79, 7.87, 7.95,
    8.06, 8.17, 8.28, 8.39, 8.5, 8.61, 8.72, 8.83, 8.94, 9.06, 9.17, 9.28, 9.39, 9.5, 9.61, 9.72,
    9.83, 9.94,
    10.1, 10.3, 10.5, 10.7, 10.9, 11.1, 11.3, 11.5, 11.7, 11.9,
]

tau_3 = [
    2.3, 6.8, 1.0, 4.5, 8.9, 1.6, 3.3, 5.7,
    7.9, 1.3, 4.0, 2.6, 9.3, 0.8, 5.9, 3.1, 1.9, 6.5, 4.7, 1.1, 8.4, 2.2, 3.8, 5.2,
    1.5, 6.2, 3.0, 9.0, 2.0, 4.4, 0.9, 7.3, 3.6, 1.2, 5.5, 8.6, 2.5, 4.9, 1.7, 6.9, 3.3, 0.8, 5.1,
    2.8, 9.4, 4.1,
    3.2, 8.0, 1.4, 5.8, 2.4, 9.2, 4.3, 1.0, 6.6, 3.7, 0.9, 7.5, 2.0, 5.0, 8.8, 1.6, 4.6, 2.9, 6.1,
    1.2, 3.5, 9.5, 2.2, 5.4, 7.0, 4.0,
    6.3, 1.1, 3.9, 8.5, 2.1, 5.2, 0.8, 7.7, 3.0, 4.8, 9.1, 1.5, 6.0, 2.7, 4.4, 8.2, 1.3, 3.6, 5.7,
    2.3, 9.4, 1.8, 4.1, 7.1, 2.9, 5.5,
    1.2, 5.0, 2.6, 8.7, 3.5, 1.7, 6.4, 4.2, 0.9, 7.6, 2.3, 5.6, 9.0, 3.1, 1.4, 6.8, 4.5, 2.0, 8.1,
    3.8, 1.1, 5.3, 7.2, 2.7,
    4.8, 1.5, 7.4, 2.9, 9.2, 3.6, 1.0, 6.1, 2.4, 8.3, 4.2, 1.8, 5.6, 3.2, 7.8, 1.3, 4.9, 2.6,
    3.4, 6.7, 1.6, 8.9, 2.8, 5.1, 1.2, 7.5, 4.3, 2.1,
]

theta_choate_3 = [
    -4.0, 6.5, 1.0, 9.0, -2.0, 4.0, 8.0, -0.5,
    7.5, -3.5, 10.5, 2.0, 5.5, -1.5, 11.5, 4.0, 0.0, 8.5, -3.0, 6.0, 1.5, 9.5, 3.0, -2.0,
    10.0, -2.5, 6.5, 12.5, 1.0, 8.5, -1.0, 4.0, 11.0, 2.5, 7.0, 13.0, -3.0, 5.5, 9.5, 0.5, 12.0,
    3.5, 8.0, -2.0, 6.0, 10.5,
    1.0, 12.5, 4.5, 9.0, -1.5, 14.0, 7.0, 2.5, 11.0, 5.5, 0.0, 13.0, 8.5, 3.5, 10.0, -1.0, 6.0,
    14.5, 2.0, 9.5, 12.0, 4.0, 7.5, 0.5, 11.5, 5.0,
    14.0, 2.5, 9.0, 0.0, 12.0, 5.5, 15.5, 7.0, 1.5, 10.5, 4.0, 13.5, -0.5, 8.0, 11.0, 3.0, 15.0,
    6.5, 1.0, 12.5, 9.5, 4.5, 14.5, 2.0, 7.5, 10.0,
    16.0, 3.5, 11.5, 1.0, 14.0, 6.5, 9.5, 16.5, 2.5, 12.5, 5.0, 15.0, 8.0, 0.5, 13.0, 4.0, 10.5,
    16.0, 7.0, 2.0, 14.5, 11.0, 5.5, 9.0,
    3.0, 15.5, 8.0, 17.0, 5.5, 12.0, 2.5, 14.0, 10.0, 16.5, 4.5, 13.0, 7.0, 17.5, 11.5, 6.0, 15.0,
    9.0,
    5.0, 16.0, 9.5, 13.5, 4.0, 17.0, 11.0, 7.5, 14.5, 12.0,
]

theta_deerfield_3 = [
    -5.0, 3.0, -1.5, 5.5, -3.5, 1.0, 4.0, -0.5,
    6.5, -5.0, 2.0, -2.0, 7.5, 0.5, -4.0, 4.5, 1.5, -5.5, 5.5, -1.0, 3.0, 7.0, -3.0, 0.0,
    -4.5, 8.0, 2.5, 10.5, -1.5, 5.0, -3.0, 9.0, 0.5, 6.5, -5.0, 3.5, 10.0, -2.0, 7.0, 1.5, 4.5,
    -0.5, 8.5, 11.0, 2.0, -3.5,
    11.0, -3.5, 5.5, 0.5, 9.0, -1.5, 3.0, 12.0, 7.0, -4.0, 1.5, 10.0, 4.5, -2.5, 8.0, 11.5, 2.0,
    6.0, -0.5, 9.5, 3.5, -3.0, 7.5, 0.0, 10.5, 5.0,
    -2.5, 10.0, 4.0, 13.5, 1.0, 7.5, -1.0, 12.0, 5.5, 2.5, 14.0, 9.0, -3.0, 6.0, 11.0, 0.0, 8.5,
    3.0, 13.0, -1.5, 7.0, 10.5, 4.5, 12.5, 1.5, 9.5,
    14.5, 2.0, 9.0, -0.5, 12.0, 5.5, 15.0, 3.5, 10.5, 0.5, 7.5, 13.5, 4.5, -1.0, 11.0, 8.0, 14.0,
    1.5, 6.0, 12.5, 9.5, 3.0, 15.0, 6.5,
    1.5, 13.5, 6.5, 15.5, 4.0, 10.5, 2.5, 12.0, 8.0, 16.0, 5.0, 14.5, 9.0, 1.0, 11.5, 7.0, 15.0,
    3.5,
    14.0, 4.0, 10.0, 7.0, 15.0, 3.5, 12.0, 8.5, 5.5, 13.0,
]

theta_andover_3 = [
    -7.0, 2.5, -3.0, 3.5, -5.5, 0.0, -1.5, -8.0,
    5.0, -6.5, 0.5, -3.5, 6.0, -1.0, -5.0, 3.0, 1.5, -7.0, 4.0, -2.0, 2.0, 5.5, -4.5, -0.5,
    -5.5, 6.5, 0.5, 8.0, -3.0, 3.5, -4.5, 7.0, -1.0, 5.0, -6.0, 2.0, 7.5, -2.5, 4.5, 1.0, 3.0,
    -1.5, 6.0, 8.0, 0.0, -4.0,
    9.5, -4.5, 3.5, -1.0, 7.5, -2.5, 1.5, 10.0, 5.5, -5.0, 0.0, 8.5, 3.0, -3.5, 6.5, 9.0, 0.5,
    4.5, -1.5, 8.0, 2.0, -4.0, 6.0, -0.5, 9.5, 4.0,
    -3.5, 8.0, 2.0, 10.5, -1.0, 5.5, -2.5, 9.5, 3.5, 0.5, 11.0, 7.0, -4.0, 4.5, 9.0, -1.5, 6.5,
    1.5, 10.0, -3.0, 5.0, 8.5, 2.5, 10.5, 0.0, 7.5,
    12.5, 0.0, 7.0, -2.0, 10.0, 3.5, 13.0, 1.5, 8.5, -1.0, 5.5, 11.5, 2.5, -1.5, 9.0, 6.0, 12.0,
    0.5, 4.0, 10.5, 7.5, 1.0, 13.0, 4.5,
    0.5, 11.5, 5.0, 13.5, 2.5, 9.0, 1.0, 10.5, 6.5, 14.0, 3.5, 12.5, 7.5, 0.0, 10.0, 5.5, 13.0,
    2.0,
    13.0, 3.0, 9.0, 6.0, 14.0, 2.5, 11.0, 7.5, 4.5, 12.0,
]

theta_exeter_3 = [
    4.0, -6.0, 0.5, -3.0, 5.0, -1.5, 2.5, -4.5,
    -5.5, 6.0, 1.0, -2.5, 7.5, -0.5, 3.5, -4.0, 5.0, 0.0, -6.0, 7.0, 2.0, -1.5, 4.5, -3.0,
    9.0, -4.5, 4.0, -1.0, 7.5, 1.5, -3.0, 9.5, 5.5, -2.0, 2.5, 8.0, -5.0, 6.0, 0.0, 3.5, 10.0,
    -1.5, 6.5, 1.0, -3.5, 8.5,
    -3.5, 8.0, 2.5, 10.5, 0.0, 5.5, -2.0, 9.5, 4.0, -4.0, 7.0, 1.0, 11.0, 3.0, -1.0, 6.5, 9.0,
    -2.5, 4.5, 10.0, 0.5, 7.5, 2.0, -0.5, 5.0, 8.5,
    12.5, -2.0, 6.0, 1.0, 10.0, -3.0, 4.0, 12.0, 7.5, 0.0, 2.5, 11.0, 5.0, -1.5, 9.0, 13.0, 3.5,
    8.0, -0.5, 10.5, 1.5, 6.5, 11.5, -2.5, 7.0, 4.5,
    0.0, 11.5, 5.0, 13.5, 2.5, 8.5, -1.0, 10.5, 6.5, 14.0, 3.5, 12.0, 7.5, 0.5, 9.5, 4.0, 13.0,
    1.5, 11.0, 6.0, -0.5, 9.0, 14.0, 3.0,
    14.5, 2.0, 9.0, 5.0, 12.5, 1.0, 11.0, 7.0, 15.0, 3.5, 10.0, 6.0, 13.5, 2.5, 8.0, 14.0, 4.5,
    11.5,
    4.0, 13.5, 8.0, 11.0, 3.0, 15.0, 6.5, 12.5, 9.5, 5.5,
]

theta_hotchkiss_3 = [
    -5.5, 4.5, -1.0, 6.5, -3.5, 1.5, 3.0, -2.0,
    8.0, -4.5, 2.5, -1.5, 6.0, 0.5, -3.5, 9.0, 4.0, -5.0, 7.0, 1.5, -2.5, 5.0, 3.0, -0.5,
    -4.0, 7.5, 1.0, 9.5, -2.5, 5.0, -5.0, 8.5, 3.0, -1.0, 10.0, 4.5, -3.0, 6.5, 0.0, 2.0, 9.0,
    -1.5, 5.5, 8.0, 1.5, -4.5,
    10.5, -3.0, 4.5, 0.0, 8.5, -2.0, 2.5, 11.0, 6.0, -4.0, 1.0, 9.5, 3.5, -1.0, 7.0, 10.0, 0.5,
    5.0, -2.5, 8.0, 2.0, -3.5, 6.5, 1.5, 9.0, 4.0,
    -2.5, 9.0, 3.0, 11.5, 0.0, 6.0, -1.5, 10.5, 4.5, 1.5, 12.0, 7.5, -3.0, 5.0, 9.5, -0.5, 7.0,
    2.0, 11.0, -2.0, 5.5, 8.5, 3.5, 10.0, 0.5, 6.5,
    12.5, 1.0, 7.5, -1.0, 10.5, 4.0, 13.0, 2.0, 9.0, 0.0, 6.0, 11.5, 3.0, -0.5, 9.5, 5.5, 12.0,
    1.5, 7.0, 10.0, 4.5, -1.0, 13.0, 8.0,
    0.5, 12.0, 5.5, 14.5, 3.0, 9.5, 1.5, 11.0, 7.0, 15.0, 4.0, 13.0, 8.0, 0.0, 10.5, 6.0, 14.0,
    2.5,
    14.0, 3.0, 9.5, 6.0, 15.0, 2.5, 12.0, 8.0, 4.5, 13.0,
]

theta_lawrenceville_3 = [
    4.0, -5.5, 1.0, -2.5, 5.0, -1.0, 2.5, -4.0,
    -4.5, 5.5, 0.0, -2.0, 6.5, 1.5, -3.5, 4.0, 2.5, -5.0, 7.0, -1.0, 3.0, 5.0, -3.0, 0.5,
    8.5, -3.5, 3.0, -1.0, 6.5, 0.5, -2.5, 9.0, 4.5, -4.0, 2.0, 7.5, 5.5, -1.5, 1.0, 8.0, -3.0,
    3.5, 6.0, -0.5, 9.0, 2.5,
    -2.5, 7.5, 1.5, 9.5, -1.0, 4.5, -3.0, 8.5, 3.0, 0.0, 10.0, 6.0, -2.0, 5.0, 8.0, -0.5, 6.5,
    2.0, 9.0, -1.5, 4.0, 7.0, 2.5, 9.5, 0.5, 5.5,
    11.5, -1.0, 5.5, 1.0, 9.0, -2.0, 3.5, 11.0, 7.0, 0.0, 2.0, 10.0, 4.5, -1.5, 8.0, 12.0, 2.5,
    6.5, -0.5, 9.5, 1.5, 6.0, 10.5, -1.0, 7.5, 4.0,
    0.5, 11.0, 5.0, 12.5, 2.5, 8.0, 0.0, 10.0, 6.0, 13.0, 3.5, 11.5, 7.0, 1.0, 9.0, 4.0, 12.0,
    1.5, 10.5, 5.5, 0.5, 8.5, 13.0, 3.0,
    14.5, 3.0, 9.5, 5.5, 13.0, 2.0, 11.5, 7.5, 15.0, 4.0, 10.5, 6.5, 14.0, 2.5, 8.5, 13.5, 5.0,
    12.0,
    4.0, 13.5, 8.0, 11.0, 3.0, 15.0, 6.5, 12.5, 9.5, 5.5,
]

theta_stpauls_3 = [
    -3.5, 6.0, 1.0, 7.5, -1.5, 3.5, 5.0, -0.5,
    9.0, -2.5, 4.0, 0.0, 7.5, 2.0, -1.5, 10.0, 5.5, -3.0, 8.0, 1.0, -0.5, 6.5, 3.0, 9.5,
    -1.5, 10.0, 3.5, 11.5, 0.5, 7.0, -2.0, 9.5, 5.0, 1.5, 12.0, 6.0, -0.5, 8.5, 2.5, 4.0, 11.0,
    0.0, 7.5, 10.5, 3.0, -1.0,
    13.5, 0.0, 7.0, 2.5, 11.0, -1.0, 4.5, 14.0, 9.0, 1.0, 3.5, 12.0, 6.0, -0.5, 10.0, 13.0, 2.0,
    8.0, 0.5, 11.5, 5.0, -1.0, 9.5, 3.0, 12.5, 6.5,
    0.5, 12.5, 5.5, 15.0, 2.5, 9.0, 0.0, 14.0, 7.0, 3.5, 16.0, 10.5, 1.5, 8.0, 13.0, 4.5, 11.0,
    2.0, 15.5, 0.5, 6.5, 12.0, 4.0, 14.5, 1.0, 9.5,
    16.5, 3.0, 10.0, 2.0, 14.0, 6.5, 17.0, 4.5, 12.0, 2.5, 8.5, 15.5, 5.5, 2.0, 13.0, 9.5, 16.0,
    3.5, 7.5, 14.5, 11.0, 4.0, 17.0, 8.0,
    4.5, 16.0, 9.0, 18.5, 6.0, 13.0, 5.0, 15.0, 10.5, 19.0, 7.0, 17.0, 11.5, 4.0, 14.0, 8.5, 18.0,
    6.5,
    18.0, 6.0, 12.5, 9.0, 19.0, 5.5, 15.5, 10.5, 7.5, 16.5,
]

theta_mthermon_3 = [
    7.0, -6.5, 2.0, -2.5, 8.0, -4.0, 4.5, 0.0,
    -5.5, 9.0, 2.0, -2.0, 10.5, 4.5, -4.0, 7.0, 0.5, 11.0, -6.0, 5.5, 3.0, -1.0, 8.5, 1.5,
    12.5, -4.5, 4.0, 8.5, -1.5, 10.5, 1.0, -3.5, 6.5, 13.0, 2.5, -5.0, 9.0, 0.0, 11.5, 5.0, -2.5,
    7.5, 3.0, 12.0, -0.5, 6.0,
    -3.5, 11.0, 3.0, 14.5, 0.0, 7.0, -2.0, 13.0, 5.5, 1.5, 15.0, 9.0, -4.0, 6.0, 12.0, -1.0, 9.5,
    2.5, 14.0, -3.0, 7.5, 10.5, 4.0, 13.5, 0.5, 8.0,
    16.5, -1.5, 8.0, 2.0, 13.0, -2.0, 5.0, 15.5, 10.0, 0.5, 3.5, 14.0, 6.5, -0.5, 11.5, 17.0, 4.0,
    9.0, 1.0, 12.5, 2.5, 7.5, 15.0, -1.0, 10.5, 6.0,
    0.5, 14.0, 6.0, 17.5, 3.0, 10.0, 0.0, 12.5, 7.5, 18.0, 4.5, 15.5, 9.0, 1.5, 11.5, 5.0, 16.5,
    2.0, 13.5, 7.0, 1.0, 10.5, 17.0, 4.0,
    19.5, 2.5, 11.0, 6.0, 16.5, 1.0, 14.0, 8.5, 19.0, 4.0, 12.5, 7.0, 18.0, 3.0, 10.0, 17.0, 5.5,
    15.0,
    4.0, 17.5, 10.0, 14.0, 3.0, 19.0, 7.5, 16.0, 12.0, 6.0,
]

# x ticks as shown on each panel (last one is tau)
xticks = [[0, 20], [0, 20], [-20, 0, 20], [-20, 0, 20],
          [-10, 0, 10, 20], [-20, 0, 20], [-10, 0, 10, 20, 30], [0, 20, 40],
          [0, 10, 20]]

thetas = [theta_choate + theta_choate_2 + theta_choate_3,
          theta_deerfield + theta_deerfield_2 + theta_deerfield_3,
          theta_andover + theta_andover_2 + theta_andover_3,
          theta_exeter + theta_exeter_2 + theta_exeter_3,
          theta_hotchkiss + theta_hotchkiss_2 + theta_hotchkiss_3,
          theta_lawrenceville + theta_lawrenceville_2 + theta_lawrenceville_3,
          theta_stpauls + theta_stpauls_2 + theta_stpauls_3,
          theta_mthermon + theta_mthermon_2 + theta_mthermon_3]
mu_all = mu + mu_2 + mu_3
tau_all = tau + tau_2 + tau_3

for t in thetas + [tau_all]:
    assert len(t) == len(mu_all), len(t)

plt.rcParams["font.family"] = "DejaVu Sans"
plt.rcParams["axes.edgecolor"] = "#606060"
plt.rcParams["xtick.color"] = "#606060"
plt.rcParams["ytick.color"] = "#606060"
plt.rcParams["xtick.labelcolor"] = "#333333"
plt.rcParams["ytick.labelcolor"] = "#333333"
plt.rcParams["axes.labelcolor"] = "#333333"

fig, axes = plt.subplots(3, 4, figsize=(10.8, 4.3), dpi=100, sharey=True)
fig.subplots_adjust(left=0.0463, right=0.975, top=0.993, bottom=0.105,
                    wspace=0.122, hspace=0.86)

xs_list = thetas + [tau_all]
labels = ["theta\n" + s for s in schools] + ["tau"]

for ax, xs, lab, ticks in zip(axes.flat, xs_list, labels, xticks):
    ax.scatter(xs, mu_all, s=20, color="#3aacc6", alpha=0.58, edgecolors="none")
    ax.set_xlabel(lab, fontsize=10)
    ax.set_ylabel("mu", fontsize=10)
    ax.set_xticks(ticks)
    ax.tick_params(labelsize=10, length=3.5, width=0.9)
    ax.spines["top"].set_visible(False)
    ax.spines["right"].set_visible(False)

for ax in list(axes.flat)[9:]:
    ax.remove()

axes[0, 0].set_yticks([0, 10])
axes[0, 0].set_ylim(-7.7, 15.4)

fig.savefig("out.png", dpi=100)
